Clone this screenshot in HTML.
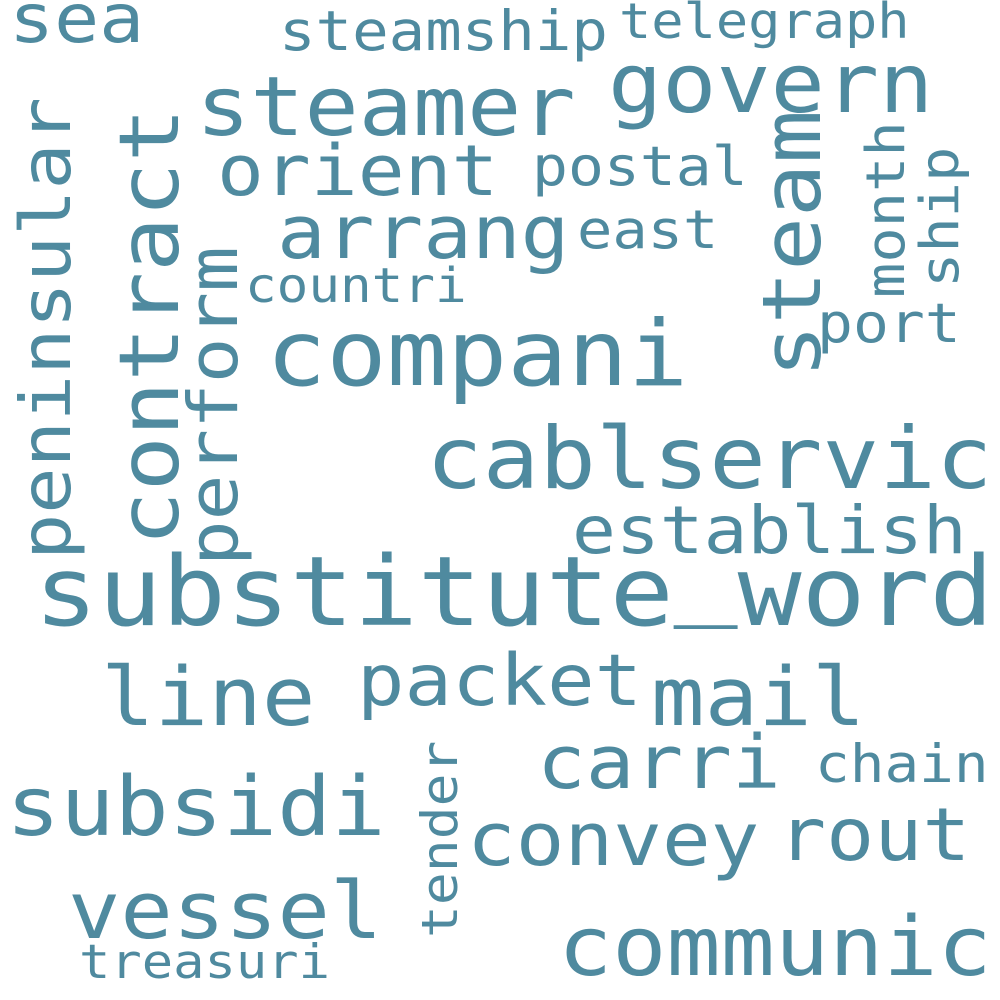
<!DOCTYPE html>
<html><head><meta charset="utf-8"><style>
html,body{margin:0;padding:0;background:#fff;}
svg{display:block}
text{font-family:"DejaVu Sans Mono","Liberation Mono",monospace;fill:#4f8a9f;}
</style></head><body>
<svg width="1000" height="1000" viewBox="0 0 1000 1000">
<g transform="translate(34,625) scale(1.012,0.92)"><text font-size="105">substitute<tspan dy="-20">_</tspan><tspan dy="20">word</tspan></text></g>
<g transform="translate(266,385) scale(1.012,0.92)"><text font-size="99">compani</text></g>
<g transform="translate(426,488) scale(1.012,0.92)"><text font-size="93">cablservic</text></g>
<g transform="translate(196,135) scale(1.012,0.92)"><text font-size="89">steamer</text></g>
<g transform="translate(608,112) scale(1.012,0.92)"><text font-size="89">govern</text></g>
<g transform="translate(217,195) scale(1.012,0.92)"><text font-size="77">orient</text></g>
<g transform="translate(277,258) scale(1.012,0.92)"><text font-size="80">arrang</text></g>
<g transform="translate(9,42) scale(1.012,0.92)"><text font-size="74">sea</text></g>
<g transform="translate(279,50) scale(1.012,0.92)"><text font-size="60">steamship</text></g>
<g transform="translate(619,38) scale(1.012,0.92)"><text font-size="53">telegraph</text></g>
<g transform="translate(532,185) scale(1.012,0.92)"><text font-size="59">postal</text></g>
<g transform="translate(577,248) scale(1.012,0.92)"><text font-size="58">east</text></g>
<g transform="translate(245,302) scale(1.012,0.92)"><text font-size="52">countri</text></g>
<g transform="translate(817,342) scale(1.012,0.92)"><text font-size="59">port</text></g>
<g transform="translate(572,553) scale(1.012,0.92)"><text font-size="72">establish</text></g>
<g transform="translate(101,725) scale(1.012,0.92)"><text font-size="88">line</text></g>
<g transform="translate(357,705) scale(1.012,0.92)"><text font-size="78">packet</text></g>
<g transform="translate(651,725) scale(1.012,0.92)"><text font-size="88">mail</text></g>
<g transform="translate(537,788) scale(1.012,0.92)"><text font-size="80">carri</text></g>
<g transform="translate(815,782) scale(1.012,0.92)"><text font-size="57">chain</text></g>
<g transform="translate(6,835) scale(1.012,0.92)"><text font-size="89">subsidi</text></g>
<g transform="translate(467,865) scale(1.012,0.92)"><text font-size="80">convey</text></g>
<g transform="translate(778,860) scale(1.012,0.92)"><text font-size="79">rout</text></g>
<g transform="translate(68,938) scale(1.012,0.92)"><text font-size="86">vessel</text></g>
<g transform="translate(558,975) scale(1.012,0.92)"><text font-size="89">communic</text></g>
<g transform="translate(79,978) scale(1.012,0.92)"><text font-size="51.5">treasuri</text></g>
<g transform="translate(70,560) rotate(-90) scale(1.012,0.92)"><text font-size="76">peninsular</text></g>
<g transform="translate(178,546) rotate(-90) scale(1.012,0.92)"><text font-size="90">contract</text></g>
<g transform="translate(237,566) rotate(-90) scale(1.012,0.92)"><text font-size="75">perform</text></g>
<g transform="translate(820,378) rotate(-90) scale(1.012,0.92)"><text font-size="88">steam</text></g>
<g transform="translate(904,298) rotate(-90) scale(1.012,0.92)"><text font-size="58">month</text></g>
<g transform="translate(958,288) rotate(-90) scale(1.012,0.92)"><text font-size="58">ship</text></g>
<g transform="translate(457,938) rotate(-90) scale(1.012,0.92)"><text font-size="54">tender</text></g>
</svg>
</body></html>
